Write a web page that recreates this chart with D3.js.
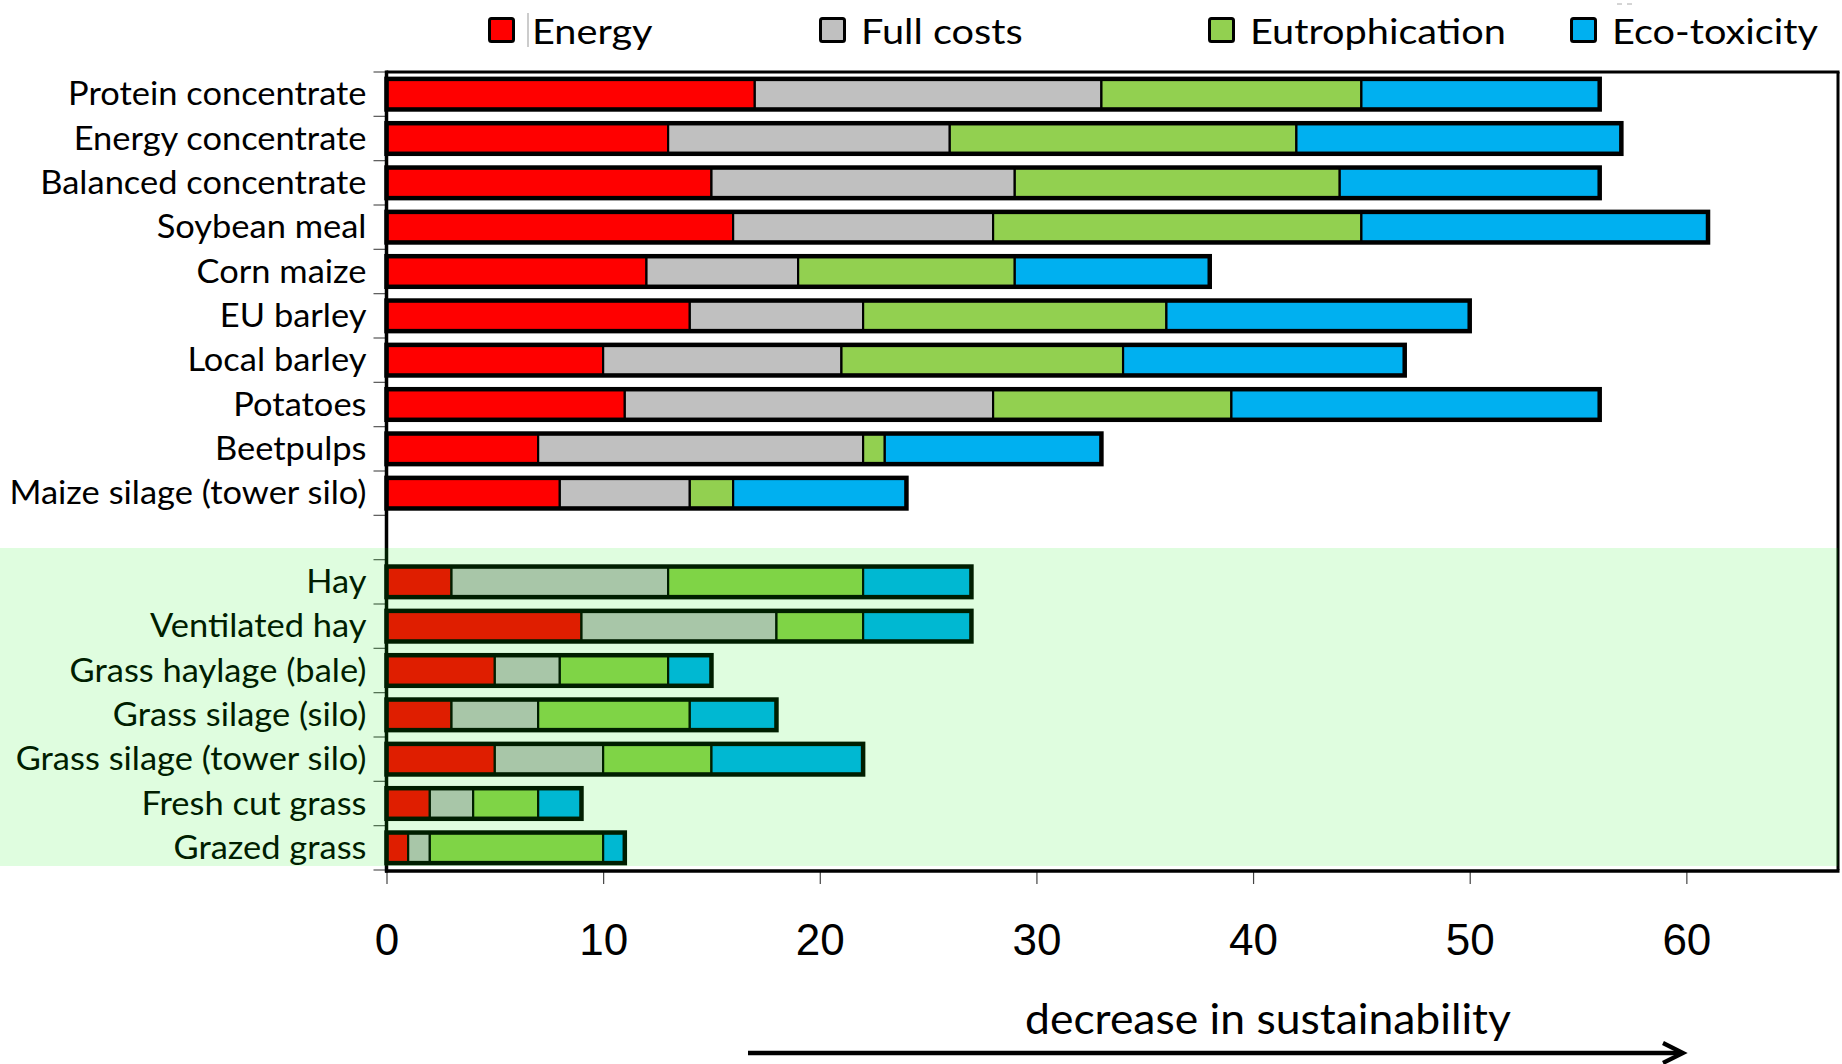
<!DOCTYPE html>
<html>
<head>
<meta charset="utf-8">
<script src="https://cdn.jsdelivr.net/npm/d3@7"></script>
<style>
html,body{margin:0;padding:0;background:#fff;}
svg{display:block;}
</style>
</head>
<body>
<svg id="chart" width="1842" height="1064"></svg>
<script>
// ---------------- data ----------------
const concentrates = ["Protein concentrate","Energy concentrate","Balanced concentrate","Soybean meal","Corn maize","EU barley","Local barley","Potatoes","Beetpulps","Maize silage (tower silo)"];
const forages = ["Hay","Ventilated hay","Grass haylage (bale)","Grass silage (silo)","Grass silage (tower silo)","Fresh cut grass","Grazed grass"];
const seriesNames = ["Energy","Full costs","Eutrophication","Eco-toxicity"];
const energy         = [17,13,15,16,12,14,10,11, 7, 8,  3, 9, 5, 3, 5, 2, 1];
const fullCosts      = [16,13,14,12, 7, 8,11,17,15, 6, 10, 9, 3, 4, 5, 2, 1];
const eutrophication = [12,16,15,17,10,14,13,11, 1, 2,  9, 4, 5, 7, 5, 3, 8];
const ecoToxicity    = [11,15,12,16, 9,14,13,17,10, 8,  5, 5, 2, 4, 7, 2, 1];
const xTicks = [0,10,20,30,40,50,60];
const xMax = 67;
const axisTitle = "decrease in sustainability";
const seriesColors = ["#FF0000","#C0C0C0","#92D050","#00B0F0"];

// ---------------- layout ----------------
const svg = d3.select("#chart");
const M = {left:386.5, right:1838, top:72, bottom:870};
const GAP = "__gap__";
const categories = concentrates.concat(forages);
const rows = categories.map((c,i)=>({
  category:c,
  "Energy":energy[i], "Full costs":fullCosts[i],
  "Eutrophication":eutrophication[i], "Eco-toxicity":ecoToxicity[i]
}));
const domain = concentrates.concat([GAP], forages);

const x = d3.scaleLinear().domain([0,xMax]).range([M.left, M.right]);
const y = d3.scaleBand().domain(domain).range([M.top, M.bottom]).paddingInner(0.31).paddingOuter(0.155);
const color = d3.scaleOrdinal().domain(seriesNames).range(seriesColors);
const layers = d3.stack().keys(seriesNames)(rows);
const LABEL_FONT = "Lato, 'Open Sans', sans-serif";

svg.append("rect").attr("width",1842).attr("height",1064).attr("fill","#fff");

// y tick marks at band boundaries
const ySteps = d3.range(domain.length+1).map(i => M.top + i*y.step());
svg.append("g").selectAll("line").data(ySteps).join("line")
  .attr("x1", M.left-13).attr("x2", M.left).attr("y1", d=>d).attr("y2", d=>d)
  .attr("stroke","#555").attr("stroke-width",1.2);

// x axis
const xAxis = svg.append("g").attr("transform",`translate(0,${M.bottom})`)
  .call(d3.axisBottom(x).tickValues(xTicks).tickSize(14).tickFormat(d3.format("d")));
xAxis.select(".domain").remove();
xAxis.selectAll(".tick line").attr("stroke","#444").attr("stroke-width",1.2);
xAxis.selectAll(".tick text")
  .attr("y", 85).attr("dy", 0)
  .attr("font-family","'Liberation Sans', Arial, sans-serif")
  .attr("font-size", 44).attr("fill","#000");

// bars
const barG = svg.append("g");
layers.forEach(layer => {
  barG.append("g").selectAll("rect").data(layer).join("rect")
    .attr("x", d => x(d[0]))
    .attr("y", d => y(d.data.category))
    .attr("width", d => x(d[1]) - x(d[0]))
    .attr("height", y.bandwidth())
    .attr("fill", color(layer.key))
    .attr("stroke","#000").attr("stroke-width",2.2);
});
barG.append("g").selectAll("rect").data(rows).join("rect")
  .attr("x", x(0))
  .attr("y", d => y(d.category))
  .attr("width", d => x(d3.sum(seriesNames, k => d[k])) - x(0))
  .attr("height", y.bandwidth())
  .attr("fill","none").attr("stroke","#000").attr("stroke-width",4.5);

// frame
const frame = svg.append("g").attr("stroke","#000").attr("fill","none");
frame.append("line").attr("x1",M.left).attr("x2",M.right+1.5).attr("y1",M.top).attr("y2",M.top).attr("stroke-width",3);
frame.append("line").attr("x1",M.right).attr("x2",M.right).attr("y1",M.top).attr("y2",M.bottom).attr("stroke-width",3);
frame.append("line").attr("x1",M.left-1.5).attr("x2",M.right+1.5).attr("y1",M.bottom+1).attr("y2",M.bottom+1).attr("stroke-width",3.5);
frame.append("line").attr("x1",M.left).attr("x2",M.left).attr("y1",M.top-1.5).attr("y2",M.bottom+2.5).attr("stroke-width",3.5);

// category labels
const yAxis = svg.append("g").attr("transform",`translate(${M.left},0)`)
  .call(d3.axisLeft(y).tickSize(0).tickPadding(20).tickFormat(d => d === GAP ? "" : d));
yAxis.select(".domain").remove();
const yTexts = yAxis.selectAll(".tick text")
  .attr("font-family", LABEL_FONT).attr("font-size", 32).attr("fill","#000")
  .attr("dy", 0).attr("y", 11);
let widest = 0;
yTexts.each(function(){ widest = Math.max(widest, this.getComputedTextLength()); });
const kY = 357 / widest;
yTexts.attr("x", 0).attr("transform", `translate(-20,0) scale(${kY},1)`);

// legend
const legendX = [488, 819, 1208, 1570];
const legend = svg.append("g");
const legTexts = [];
seriesNames.forEach((name,i) => {
  const g = legend.append("g").attr("transform",`translate(${legendX[i]},0)`);
  g.append("rect").attr("x",1.5).attr("y",18.5).attr("width",24).attr("height",23).attr("rx",2)
    .attr("fill", color(name)).attr("stroke","#000").attr("stroke-width",3);
  const t = g.append("text").attr("x",0).attr("y",44)
    .attr("font-family", LABEL_FONT).attr("font-size", 34).attr("fill","#000").text(name);
  legTexts.push({g, t, i});
});
const wEu = legTexts[2].t.node().getComputedTextLength();
const kL = 256 / wEu;
legTexts.forEach(({t,i}) => {
  const off = i === 0 ? 44 : 42;
  t.attr("transform", `translate(${off},0) scale(${kL},1)`);
});
// small artefacts seen in the source image
legend.append("line").attr("x1",528).attr("x2",528).attr("y1",13).attr("y2",47).attr("stroke","#999").attr("stroke-width",1);
legend.append("line").attr("x1",1617).attr("x2",1622).attr("y1",4).attr("y2",4).attr("stroke","#aaa").attr("stroke-width",1);
legend.append("line").attr("x1",1627).attr("x2",1632).attr("y1",4).attr("y2",4).attr("stroke","#aaa").attr("stroke-width",1);

// green overlay over the forage group
svg.append("rect")
  .attr("x", 0).attr("width", M.right)
  .attr("y", 548).attr("height", 866 - 548)
  .attr("fill", "rgb(0,240,0)").attr("fill-opacity", 0.125);

// axis title and arrow
const title = svg.append("text").attr("x",0).attr("y",1034)
  .attr("font-family", LABEL_FONT).attr("font-size", 42).attr("fill","#000").text(axisTitle);
const wT = title.node().getComputedTextLength();
title.attr("transform", `translate(1025,0) scale(${486/wT},1)`);

svg.append("line").attr("x1",748).attr("x2",1680).attr("y1",1053).attr("y2",1053)
  .attr("stroke","#000").attr("stroke-width",4.5);
svg.append("polyline").attr("points","1663,1043 1683,1053 1663,1063")
  .attr("fill","none").attr("stroke","#000").attr("stroke-width",4.2);
</script>
</body>
</html>
